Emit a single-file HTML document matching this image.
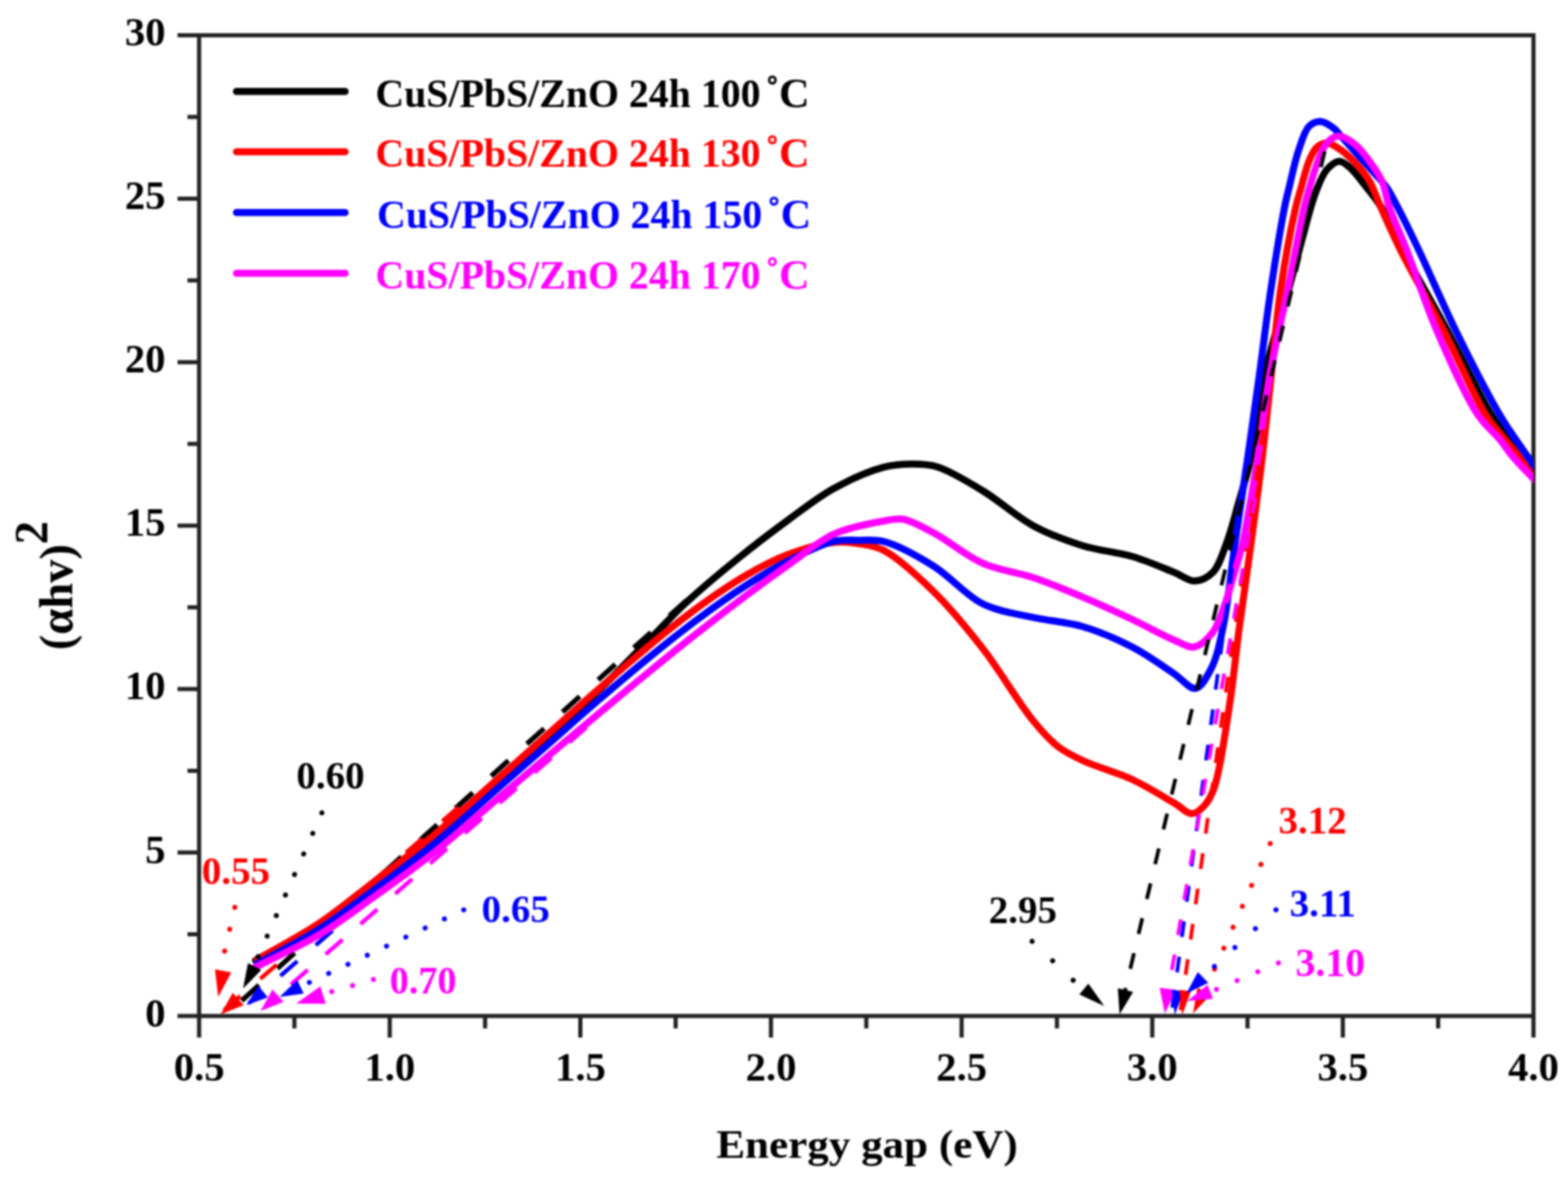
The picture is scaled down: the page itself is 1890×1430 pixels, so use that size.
<!DOCTYPE html>
<html><head><meta charset="utf-8"><title>Energy gap plot</title>
<style>html,body{margin:0;padding:0;background:#fff;}body{width:1890px;height:1430px;overflow:hidden;}svg{display:block;filter:blur(0.8px);}text{font-family:"Liberation Serif",serif;font-weight:bold;}</style>
</head><body>
<svg width="1890" height="1430" viewBox="0 0 1890 1430">
<rect width="1890" height="1430" fill="#fff"/>
<g stroke="#222" stroke-width="5" fill="none" stroke-linecap="square"><path d="M240.0,42.5 H1848.4 V1225.0 H240.0 Z"/></g>
<g stroke="#222" stroke-width="5" fill="none"><line x1="214.0" y1="1225.0" x2="240.0" y2="1225.0"/><line x1="226.0" y1="1126.5" x2="240.0" y2="1126.5"/><line x1="214.0" y1="1027.9" x2="240.0" y2="1027.9"/><line x1="226.0" y1="929.4" x2="240.0" y2="929.4"/><line x1="214.0" y1="830.8" x2="240.0" y2="830.8"/><line x1="226.0" y1="732.3" x2="240.0" y2="732.3"/><line x1="214.0" y1="633.8" x2="240.0" y2="633.8"/><line x1="226.0" y1="535.2" x2="240.0" y2="535.2"/><line x1="214.0" y1="436.7" x2="240.0" y2="436.7"/><line x1="226.0" y1="338.1" x2="240.0" y2="338.1"/><line x1="214.0" y1="239.6" x2="240.0" y2="239.6"/><line x1="226.0" y1="141.0" x2="240.0" y2="141.0"/><line x1="214.0" y1="42.5" x2="240.0" y2="42.5"/><line x1="240.0" y1="1225.0" x2="240.0" y2="1251.0"/><line x1="354.9" y1="1225.0" x2="354.9" y2="1240.0"/><line x1="469.8" y1="1225.0" x2="469.8" y2="1251.0"/><line x1="584.7" y1="1225.0" x2="584.7" y2="1240.0"/><line x1="699.5" y1="1225.0" x2="699.5" y2="1251.0"/><line x1="814.4" y1="1225.0" x2="814.4" y2="1240.0"/><line x1="929.3" y1="1225.0" x2="929.3" y2="1251.0"/><line x1="1044.2" y1="1225.0" x2="1044.2" y2="1240.0"/><line x1="1159.1" y1="1225.0" x2="1159.1" y2="1251.0"/><line x1="1274.0" y1="1225.0" x2="1274.0" y2="1240.0"/><line x1="1388.9" y1="1225.0" x2="1388.9" y2="1251.0"/><line x1="1503.7" y1="1225.0" x2="1503.7" y2="1240.0"/><line x1="1618.6" y1="1225.0" x2="1618.6" y2="1251.0"/><line x1="1733.5" y1="1225.0" x2="1733.5" y2="1240.0"/><line x1="1848.4" y1="1225.0" x2="1848.4" y2="1251.0"/></g>
<g font-size="49" fill="#000" text-anchor="end"><text x="199.5" y="1237.6">0</text><text x="199.5" y="1040.5">5</text><text x="199.5" y="843.4">10</text><text x="199.5" y="646.4">15</text><text x="199.5" y="449.3">20</text><text x="199.5" y="252.2">25</text><text x="199.5" y="55.1">30</text></g>
<g font-size="49" fill="#000" text-anchor="middle"><text x="240.0" y="1302.5">0.5</text><text x="469.8" y="1302.5">1.0</text><text x="699.5" y="1302.5">1.5</text><text x="929.3" y="1302.5">2.0</text><text x="1159.1" y="1302.5">2.5</text><text x="1388.9" y="1302.5">3.0</text><text x="1618.6" y="1302.5">3.5</text><text x="1848.4" y="1302.5">4.0</text></g>
<text x="863.5" y="1395.6" font-size="48" textLength="363.2" lengthAdjust="spacingAndGlyphs" fill="#000">Energy gap (eV)</text>
<text transform="translate(87.3,783.9) rotate(-90)" font-size="56" fill="#000">(&#945;hv)<tspan dy="-30">2</tspan></text>
<clipPath id="pc"><rect x="240.0" y="42.5" width="1608.4" height="1182.5"/></clipPath>
<line x1="280.0" y1="1216.7" x2="830.0" y2="721.6" stroke="#000000" stroke-width="6" stroke-dasharray="28 29.8" stroke-dashoffset="42.5"/>
<line x1="270.0" y1="1218.0" x2="560.0" y2="967.0" stroke="#ff0000" stroke-width="5" stroke-dasharray="26 32" stroke-dashoffset="0"/>
<line x1="300.0" y1="1209.7" x2="600.0" y2="948.7" stroke="#0000ff" stroke-width="5" stroke-dasharray="27 29.4" stroke-dashoffset="6"/>
<line x1="322.0" y1="1212.0" x2="710.0" y2="874.5" stroke="#ff00ff" stroke-width="5" stroke-dasharray="27 28.6" stroke-dashoffset="17.7"/>
<path d="M308.0,1158.0 C333.7,1143.3 360.9,1130.0 385.0,1114.0 C408.1,1098.7 427.6,1081.7 450.0,1064.5 C474.1,1046.0 500.3,1026.9 525.0,1006.5 C550.3,985.6 576.4,961.3 600.0,940.5 C621.1,921.9 640.0,905.2 660.0,887.5 C680.0,869.7 702.2,850.8 720.0,834.0 C734.9,819.9 747.6,806.4 760.0,794.0 C770.7,783.3 779.6,774.4 790.0,764.0 C801.2,752.7 811.2,741.3 825.0,728.5 C843.0,711.7 868.5,690.4 890.0,673.0 C910.2,656.7 930.3,641.4 950.0,627.0 C968.6,613.5 985.7,599.6 1005.0,589.0 C1024.1,578.5 1047.4,568.0 1065.0,563.4 C1077.9,560.0 1088.8,559.5 1100.0,559.5 C1110.4,559.5 1118.9,559.5 1130.0,563.0 C1146.0,568.0 1166.6,580.8 1185.0,592.0 C1204.9,604.1 1224.4,622.5 1245.0,633.7 C1264.4,644.2 1284.7,651.7 1305.0,658.0 C1324.7,664.1 1346.1,665.4 1365.0,671.0 C1382.6,676.2 1401.2,684.5 1415.0,690.0 C1424.8,693.9 1432.0,700.7 1440.0,700.5 C1447.6,700.3 1456.0,696.0 1462.0,690.0 C1469.4,682.5 1473.2,668.6 1478.0,656.0 C1483.7,641.1 1488.2,622.8 1493.0,606.0 C1497.9,589.1 1502.6,575.0 1507.0,555.0 C1513.1,527.4 1517.5,483.3 1523.5,455.0 C1528.0,433.8 1533.0,417.9 1538.0,400.0 C1542.8,382.9 1547.4,369.6 1553.0,350.0 C1560.9,322.4 1573.8,270.5 1580.0,250.0 C1582.8,240.7 1583.7,237.0 1586.6,230.0 C1589.9,221.9 1593.9,210.6 1599.3,204.5 C1603.6,199.6 1609.5,194.4 1614.5,194.4 C1619.4,194.4 1624.5,199.8 1628.9,203.7 C1633.6,207.9 1636.8,212.9 1641.6,218.9 C1648.3,227.4 1657.6,238.0 1665.0,250.0 C1673.9,264.4 1679.8,280.6 1690.0,300.0 C1704.6,327.7 1727.2,366.6 1745.2,400.0 C1763.0,433.2 1783.2,476.7 1797.4,500.0 C1805.5,513.3 1812.1,521.1 1818.6,530.0 C1824.0,537.4 1828.4,543.1 1833.7,550.0 C1839.5,557.4 1845.9,565.3 1852.0,573.0" fill="none" stroke="#000000" stroke-width="8.5" stroke-linejoin="round" stroke-linecap="round" clip-path="url(#pc)"/>
<path d="M310.0,1157.0 C335.0,1142.4 361.3,1128.9 385.0,1113.1 C407.9,1097.8 427.6,1081.0 450.0,1063.8 C474.2,1045.2 500.3,1025.8 525.0,1005.3 C550.3,984.3 576.4,960.0 600.0,939.1 C621.1,920.4 640.0,903.6 660.0,885.8 C680.0,868.0 699.9,849.9 720.0,832.3 C739.9,814.8 759.8,797.3 780.0,780.6 C799.8,764.2 819.7,747.9 840.0,733.2 C859.7,718.9 880.6,704.5 900.0,693.3 C917.1,683.4 932.6,675.1 950.0,668.6 C967.6,662.0 989.3,655.6 1005.0,654.0 C1016.4,652.8 1025.1,653.9 1035.0,655.5 C1045.1,657.1 1054.0,657.8 1065.0,663.5 C1082.4,672.5 1105.8,694.2 1125.0,713.0 C1145.9,733.4 1165.6,757.6 1185.0,782.5 C1205.7,809.2 1227.7,847.5 1245.0,868.6 C1256.1,882.2 1264.4,891.7 1275.0,900.0 C1284.5,907.4 1293.0,911.4 1305.0,917.0 C1321.3,924.7 1346.2,931.2 1365.0,940.0 C1382.7,948.3 1401.7,960.4 1415.0,968.0 C1423.9,973.1 1430.4,981.2 1437.0,981.0 C1442.5,980.8 1447.8,975.6 1452.0,971.0 C1456.9,965.7 1459.9,960.0 1463.5,950.0 C1470.8,929.4 1476.9,883.0 1482.0,850.0 C1487.0,818.0 1489.7,787.1 1494.0,755.0 C1498.4,722.1 1503.5,688.3 1508.0,655.0 C1512.5,621.7 1517.0,588.4 1521.0,555.0 C1525.0,521.7 1528.3,488.7 1532.0,455.0 C1535.8,420.4 1538.5,384.5 1543.5,350.0 C1548.4,316.2 1556.9,271.4 1561.8,250.0 C1564.1,239.7 1565.6,235.7 1568.0,227.4 C1570.9,217.2 1574.2,202.5 1578.1,193.5 C1580.9,186.9 1583.3,180.9 1587.4,177.4 C1590.9,174.4 1595.6,172.3 1600.0,172.5 C1605.1,172.8 1611.0,177.2 1616.2,180.8 C1622.0,184.8 1627.7,190.3 1633.1,196.0 C1639.0,202.3 1645.0,209.0 1650.0,217.2 C1655.7,226.6 1659.0,237.9 1664.4,250.0 C1671.1,264.9 1677.8,280.6 1687.4,300.0 C1701.2,327.8 1723.7,366.5 1741.0,400.0 C1758.1,433.2 1776.1,476.9 1790.6,500.0 C1799.1,513.5 1806.7,521.1 1814.0,530.0 C1820.0,537.4 1825.0,543.1 1831.0,550.0 C1837.6,557.7 1845.0,566.0 1852.0,574.0" fill="none" stroke="#ff0000" stroke-width="8.5" stroke-linejoin="round" stroke-linecap="round" clip-path="url(#pc)"/>
<path d="M310.0,1162.0 C335.0,1148.0 361.3,1135.1 385.0,1120.1 C407.9,1105.6 427.7,1090.1 450.0,1073.6 C474.3,1055.6 500.3,1036.2 525.0,1016.0 C550.3,995.2 576.4,971.1 600.0,950.5 C621.1,932.0 640.0,915.5 660.0,898.0 C680.0,880.5 699.9,862.7 720.0,845.4 C739.9,828.2 759.9,811.1 780.0,794.6 C799.9,778.4 819.8,762.3 840.0,747.3 C859.8,732.6 880.7,717.7 900.0,705.4 C917.2,694.4 932.7,685.1 950.0,676.4 C967.6,667.5 989.1,656.2 1005.0,652.6 C1016.2,650.1 1025.0,651.5 1035.0,651.5 C1045.0,651.5 1053.6,649.9 1065.0,652.8 C1082.0,657.1 1105.6,670.2 1125.0,682.3 C1145.7,695.1 1163.9,717.9 1185.0,728.3 C1204.1,737.7 1224.9,739.9 1245.0,744.4 C1264.9,748.9 1285.3,749.7 1305.0,755.5 C1325.3,761.5 1346.3,770.6 1365.0,780.3 C1382.9,789.6 1401.1,803.0 1415.0,812.2 C1425.1,818.9 1433.5,831.1 1441.0,830.0 C1448.4,828.9 1454.8,816.1 1460.0,806.0 C1466.8,792.7 1470.3,775.0 1474.5,755.0 C1480.3,727.4 1483.8,688.3 1488.6,655.0 C1493.4,621.7 1498.7,588.3 1503.5,555.0 C1508.3,521.7 1513.0,488.7 1517.6,455.0 C1522.4,420.4 1526.5,384.5 1531.7,350.0 C1536.8,316.2 1544.1,271.4 1548.3,250.0 C1550.3,239.7 1551.3,236.3 1553.5,227.4 C1556.6,214.6 1560.7,194.3 1565.4,180.8 C1569.2,169.9 1572.4,157.5 1578.1,152.0 C1582.0,148.3 1587.0,146.3 1591.7,146.5 C1596.9,146.7 1603.4,151.4 1607.7,154.6 C1611.3,157.3 1612.7,160.1 1616.2,163.9 C1621.7,170.0 1630.7,180.2 1637.4,187.6 C1643.3,194.2 1648.7,199.9 1654.3,206.2 C1660.0,212.6 1666.2,218.6 1671.2,225.7 C1676.4,233.1 1679.7,240.4 1684.8,250.0 C1692.0,263.6 1700.1,280.4 1709.4,300.0 C1722.5,327.5 1739.2,366.9 1755.4,400.0 C1771.8,433.5 1793.9,476.6 1807.5,500.0 C1815.2,513.2 1821.0,521.1 1827.0,530.0 C1832.0,537.4 1836.6,543.7 1841.0,550.0 C1844.9,555.6 1848.3,560.7 1852.0,566.0" fill="none" stroke="#0000ff" stroke-width="8.5" stroke-linejoin="round" stroke-linecap="round" clip-path="url(#pc)"/>
<path d="M308.0,1166.0 C333.7,1153.0 360.9,1141.3 385.0,1126.9 C408.1,1113.1 427.7,1097.9 450.0,1081.9 C474.2,1064.6 500.3,1046.1 525.0,1026.5 C550.3,1006.4 576.4,982.8 600.0,962.8 C621.1,945.0 640.0,929.1 660.0,912.3 C680.0,895.4 700.0,878.4 720.0,861.7 C740.0,845.0 759.9,828.4 780.0,812.0 C799.9,795.7 819.9,779.5 840.0,763.7 C859.9,748.0 880.8,731.9 900.0,717.6 C917.3,704.6 932.8,693.3 950.0,681.2 C967.8,668.7 985.5,652.9 1005.0,644.0 C1023.9,635.4 1049.6,630.9 1065.0,628.2 C1074.4,626.5 1079.6,624.6 1088.0,626.0 C1099.1,627.8 1111.5,635.2 1125.0,642.3 C1142.9,651.7 1164.3,670.3 1185.0,679.4 C1204.4,687.9 1225.2,689.6 1245.0,696.3 C1265.2,703.1 1285.1,711.5 1305.0,719.9 C1325.1,728.4 1346.0,738.0 1365.0,747.0 C1382.5,755.3 1401.0,766.0 1415.0,771.7 C1424.6,775.6 1432.3,781.4 1440.0,780.0 C1448.0,778.5 1456.1,769.7 1462.0,762.0 C1468.5,753.4 1471.8,741.4 1476.0,730.0 C1480.6,717.5 1484.2,702.9 1488.0,690.0 C1491.5,678.0 1494.5,669.8 1497.9,655.0 C1503.5,630.3 1510.0,588.4 1515.4,555.0 C1520.7,521.7 1524.0,488.6 1530.0,455.0 C1536.2,420.3 1544.9,384.6 1552.0,350.0 C1558.9,316.3 1567.0,271.4 1572.0,250.0 C1574.4,239.7 1575.8,235.4 1578.1,227.4 C1580.8,218.2 1583.7,207.1 1587.4,197.7 C1590.9,188.8 1594.1,178.0 1599.3,172.3 C1603.3,167.9 1608.5,164.1 1613.7,164.0 C1619.7,163.9 1627.2,169.4 1633.1,174.0 C1639.5,179.0 1644.7,186.3 1650.0,193.5 C1655.7,201.2 1661.9,209.8 1666.0,219.0 C1670.2,228.5 1670.7,238.6 1674.6,250.0 C1679.7,264.8 1687.3,280.4 1695.0,300.0 C1705.8,327.6 1718.3,367.0 1732.5,400.0 C1747.0,433.7 1765.9,477.1 1781.3,500.0 C1790.5,513.8 1800.5,520.9 1808.0,530.0 C1813.9,537.2 1816.9,542.8 1823.0,550.0 C1830.9,559.4 1842.3,570.7 1852.0,581.0" fill="none" stroke="#ff00ff" stroke-width="8.5" stroke-linejoin="round" stroke-linecap="round" clip-path="url(#pc)"/>
<line x1="1351.0" y1="1216.0" x2="1598.0" y2="177.0" stroke="#000000" stroke-width="4.5" stroke-dasharray="19.5 23.7" stroke-dashoffset="37.2"/>
<path d="M1349.5,1223.0 L1347.4,1191.6 L1365.8,1196.1 Z" fill="#000000"/>
<path d="M266.0,1223.0 L280.5,1197.0 L293.7,1212.1 Z" fill="#ff0000"/>
<path d="M297.0,1212.0 L311.3,1188.5 L322.8,1202.4 Z" fill="#0000ff"/>
<path d="M314.0,1219.0 L328.5,1193.0 L341.7,1208.1 Z" fill="#ff00ff"/>
<line x1="1423.0" y1="1218.0" x2="1525.0" y2="500.0" stroke="#ff0000" stroke-width="4.5" stroke-dasharray="19 24" stroke-dashoffset="0"/>
<line x1="1413.0" y1="1215.0" x2="1490.0" y2="650.0" stroke="#0000ff" stroke-width="4.5" stroke-dasharray="19 24" stroke-dashoffset="0"/>
<line x1="1405.0" y1="1212.0" x2="1513.0" y2="600.0" stroke="#ff00ff" stroke-width="4.5" stroke-dasharray="19 24" stroke-dashoffset="0"/>
<path d="M1404.0,1222.0 L1397.8,1191.0 L1417.6,1193.5 Z" fill="#ff00ff"/>
<path d="M1416.0,1224.0 L1412.6,1193.4 L1426.5,1195.0 Z" fill="#0000ff"/>
<path d="M1425.0,1224.0 L1421.6,1193.4 L1435.5,1195.0 Z" fill="#ff0000"/>
<line x1="388.0" y1="980.0" x2="306.0" y2="1165.0" stroke="#000000" stroke-width="6" stroke-linecap="round" stroke-dasharray="0.1 27"/>
<path d="M293.0,1192.0 L298.9,1161.2 L314.9,1169.6 Z" fill="#000000"/>
<line x1="283.0" y1="1094.0" x2="270.0" y2="1150.0" stroke="#ff0000" stroke-width="6" stroke-linecap="round" stroke-dasharray="0.1 27"/>
<path d="M263.0,1202.0 L259.1,1168.7 L278.8,1172.4 Z" fill="#ff0000"/>
<line x1="559.0" y1="1097.0" x2="355.0" y2="1193.0" stroke="#0000ff" stroke-width="6" stroke-linecap="round" stroke-dasharray="0.1 25.6"/>
<path d="M337.0,1202.0 L358.3,1181.7 L366.1,1197.9 Z" fill="#0000ff"/>
<line x1="450.0" y1="1181.0" x2="395.0" y2="1197.0" stroke="#ff00ff" stroke-width="6" stroke-linecap="round" stroke-dasharray="0.1 26"/>
<path d="M357.0,1210.0 L386.1,1189.3 L392.7,1210.3 Z" fill="#ff00ff"/>
<line x1="1244.0" y1="1135.0" x2="1300.0" y2="1188.0" stroke="#000000" stroke-width="6" stroke-linecap="round" stroke-dasharray="0.1 34"/>
<path d="M1331.0,1213.0 L1301.0,1198.9 L1311.9,1185.9 Z" fill="#000000"/>
<line x1="1531.0" y1="1017.0" x2="1458.0" y2="1182.0" stroke="#ff0000" stroke-width="6" stroke-linecap="round" stroke-dasharray="0.1 27.5"/>
<path d="M1438.0,1222.0 L1443.4,1191.1 L1459.5,1199.2 Z" fill="#ff0000"/>
<line x1="1538.0" y1="1097.0" x2="1463.0" y2="1166.0" stroke="#0000ff" stroke-width="6" stroke-linecap="round" stroke-dasharray="0.1 33.5"/>
<path d="M1430.0,1198.0 L1443.8,1172.0 L1456.4,1185.0 Z" fill="#0000ff"/>
<line x1="1541.0" y1="1161.0" x2="1466.0" y2="1193.0" stroke="#ff00ff" stroke-width="6" stroke-linecap="round" stroke-dasharray="0.1 27"/>
<path d="M1431.0,1207.0 L1455.5,1187.5 L1462.2,1204.2 Z" fill="#ff00ff"/>
<text x="243.2" y="1066.0" font-size="47" fill="#ff0000">0.55</text><text x="357.2" y="951.0" font-size="47" fill="#000000">0.60</text><text x="580.5" y="1112.0" font-size="47" fill="#0000ff">0.65</text><text x="469.7" y="1198.0" font-size="46" fill="#ff00ff">0.70</text><text x="1191.8" y="1113.0" font-size="47" fill="#000000">2.95</text><text x="1541.0" y="1005.0" font-size="47" fill="#ff0000">3.12</text><text x="1554.6" y="1105.0" font-size="47" fill="#0000ff">3.11</text><text x="1561.5" y="1177.0" font-size="48" fill="#ff00ff">3.10</text>
<line x1="285" y1="110.3" x2="416" y2="110.3" stroke="#000000" stroke-width="8.5" stroke-linecap="round"/><text y="128.6" font-size="48" fill="#000000"><tspan x="452.5">CuS/PbS/ZnO 24h 100</tspan><tspan x="922.3" font-size="52">&#730;</tspan><tspan x="939.1" font-size="51">C</tspan></text>
<line x1="285" y1="183.1" x2="416" y2="183.1" stroke="#ff0000" stroke-width="8.5" stroke-linecap="round"/><text y="201.4" font-size="48" fill="#ff0000"><tspan x="452.5">CuS/PbS/ZnO 24h 130</tspan><tspan x="922.3" font-size="52">&#730;</tspan><tspan x="939.1" font-size="51">C</tspan></text>
<line x1="285" y1="256.2" x2="416" y2="256.2" stroke="#0000ff" stroke-width="8.5" stroke-linecap="round"/><text y="274.5" font-size="48" fill="#0000ff"><tspan x="454.5">CuS/PbS/ZnO 24h 150</tspan><tspan x="924.3" font-size="52">&#730;</tspan><tspan x="941.1" font-size="51">C</tspan></text>
<line x1="285" y1="329.5" x2="416" y2="329.5" stroke="#ff00ff" stroke-width="8.5" stroke-linecap="round"/><text y="347.8" font-size="48" fill="#ff00ff"><tspan x="452.5">CuS/PbS/ZnO 24h 170</tspan><tspan x="922.3" font-size="52">&#730;</tspan><tspan x="939.1" font-size="51">C</tspan></text>
</svg>
</body></html>
